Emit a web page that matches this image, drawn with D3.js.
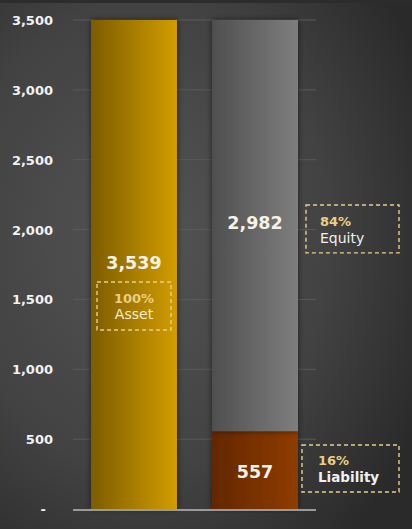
<!DOCTYPE html>
<html>
<head>
<meta charset="utf-8">
<script src="https://cdn.jsdelivr.net/npm/d3@7"></script>
<style>
  html, body { margin: 0; padding: 0; background: #2b2b2b; }
  #chart { width: 412px; height: 529px; }
</style>
</head>
<body>
<div id="chart"></div>
<script>
// data
const categories = ['Asset', 'Funding'];
const assetValues = [3539, 0];
const liabilityValues = [0, 557];
const equityValues = [0, 2982];
const yTicks = [0, 500, 1000, 1500, 2000, 2500, 3000, 3500];
const shareLabels = ['100%', '84%', '16%'];
const shareNames = ['Asset', 'Equity', 'Liability'];

const width = 412;
const height = 529;

const svg = d3.select('#chart')
    .append('svg')
    .attr('width', width)
    .attr('height', height);

const defs = svg.append('defs');

// background glow
const bg = defs.append('radialGradient')
    .attr('id', 'bg')
    .attr('cx', '35%').attr('cy', '45%').attr('r', '75%');
bg.append('stop').attr('offset', '0%').attr('stop-color', '#545454');
bg.append('stop').attr('offset', '60%').attr('stop-color', '#424242');
bg.append('stop').attr('offset', '100%').attr('stop-color', '#2a2a2a');

function barGrad(id, c1, c2) {
    const g = defs.append('linearGradient')
        .attr('id', id)
        .attr('x1', '0%').attr('x2', '100%').attr('y1', '0%').attr('y2', '0%');
    g.append('stop').attr('offset', '0%').attr('stop-color', c1);
    g.append('stop').attr('offset', '100%').attr('stop-color', c2);
}
barGrad('gold', '#7d5c02', '#d29d00');
barGrad('grey', '#4f4f4f', '#7e7e7e');
barGrad('rust', '#632700', '#8f3c00');

const shadow = defs.append('filter')
    .attr('id', 'shadow')
    .attr('x', '-20%').attr('y', '-5%').attr('width', '140%').attr('height', '110%');
shadow.append('feDropShadow')
    .attr('dx', 0).attr('dy', 0)
    .attr('stdDeviation', 3)
    .attr('flood-color', '#000')
    .attr('flood-opacity', 0.55);

svg.append('rect')
    .attr('width', width)
    .attr('height', height)
    .attr('fill', 'url(#bg)');
svg.append('rect')
    .attr('width', width)
    .attr('height', 3)
    .attr('fill', '#2c2c2c');

// scales
const x = d3.scaleBand()
    .domain(categories)
    .range([73, 316])
    .paddingInner(0.29)
    .paddingOuter(0.149);

const y = d3.scaleLinear()
    .domain([0, 3500])
    .range([509, 20])
    .clamp(true);

// grid lines
svg.append('g')
    .selectAll('line')
    .data(yTicks.slice(1))
    .enter().append('line')
    .attr('x1', 73)
    .attr('x2', 316)
    .attr('y1', d => y(d))
    .attr('y2', d => y(d))
    .style('stroke', '#5a5a5a')
    .style('stroke-width', 1);

// y axis labels
const yAxis = d3.axisLeft(y)
    .tickValues(yTicks)
    .tickSize(0)
    .tickPadding(0)
    .tickFormat(d => d === 0 ? '-' : d3.format(',')(d));

svg.append('g')
    .attr('transform', 'translate(53,0)')
    .call(yAxis)
    .call(g => g.select('.domain').remove())
    .selectAll('text')
    .attr('fill', '#f2f2f2')
    .attr('dy', '0.35em')
    .attr('dx', d => d === 0 ? -7 : 0)
    .style('font-family', 'DejaVu Sans, sans-serif')
    .style('font-weight', 'bold')
    .style('font-size', '13px');

// bars
const stacks = [
    { values: assetValues, base: categories.map(() => 0), fill: 'url(#gold)' },
    { values: liabilityValues, base: categories.map(() => 0), fill: 'url(#rust)' },
    { values: equityValues, base: liabilityValues, fill: 'url(#grey)' }
];

const barG = svg.append('g');
stacks.forEach(s => {
    const rows = categories.map((c, i) => ({ c: c, v: s.values[i], b: s.base[i] }))
        .filter(d => d.v > 0);
    barG.selectAll(null)
        .data(rows)
        .enter().append('rect')
        .attr('x', d => x(d.c))
        .attr('width', x.bandwidth())
        .attr('y', d => y(d.b + d.v))
        .attr('height', d => y(d.b) - y(d.b + d.v))
        .attr('fill', s.fill)
        .attr('filter', 'url(#shadow)');
});

// axis baseline
svg.append('line')
    .attr('x1', 73)
    .attr('x2', 316)
    .attr('y1', y(0) + 1)
    .attr('y2', y(0) + 1)
    .style('stroke', '#9a9a9a')
    .style('stroke-width', 2);

// value labels
const valueLabels = [
    { c: 'Asset', v: assetValues[0], ypos: 1760 },
    { c: 'Funding', v: equityValues[1], ypos: 2045 },
    { c: 'Funding', v: liabilityValues[1], ypos: 265 }
];
svg.append('g')
    .selectAll('text')
    .data(valueLabels)
    .enter().append('text')
    .attr('x', d => x(d.c) + x.bandwidth() / 2)
    .attr('y', d => y(d.ypos))
    .attr('dy', '0.35em')
    .attr('text-anchor', 'middle')
    .attr('fill', '#f7f2e6')
    .style('font-family', 'DejaVu Sans, sans-serif')
    .style('font-weight', 'bold')
    .style('font-size', '17.5px')
    .text(d => d3.format(',')(d.v));

// dashed share boxes
const boxes = [
    { x0: 97, x1: 171, top: 1625, bottom: 1281, anchor: 'middle', tx: 134, d1: -8, d2: 8 },
    { x0: 306, x1: 399, top: 2176, bottom: 1833, anchor: 'start', tx: 320, d1: -7, d2: 9 },
    { x0: 302, x1: 399, top: 458, bottom: 122, anchor: 'start', tx: 318, d1: -8, d2: 9 }
];
const boxG = svg.append('g');
boxes.forEach((b, i) => {
    boxG.append('rect')
        .attr('x', b.x0)
        .attr('y', y(b.top))
        .attr('width', b.x1 - b.x0)
        .attr('height', y(b.bottom) - y(b.top))
        .attr('fill', 'none')
        .attr('stroke', '#e6cf8c')
        .attr('stroke-width', 1.4)
        .attr('stroke-dasharray', '4,3');
    const mid = (y(b.top) + y(b.bottom)) / 2;
    boxG.append('text')
        .attr('x', b.tx)
        .attr('y', mid + b.d1)
        .attr('dy', '0.35em')
        .attr('text-anchor', b.anchor)
        .attr('fill', '#e8cf84')
        .style('font-family', 'DejaVu Sans, sans-serif')
        .style('font-weight', 'bold')
        .style('font-size', '13px')
        .text(shareLabels[i]);
    boxG.append('text')
        .attr('x', b.tx)
        .attr('y', mid + b.d2)
        .attr('dy', '0.35em')
        .attr('text-anchor', b.anchor)
        .attr('fill', i === 0 ? '#f5ecd2' : '#f0f0f0')
        .style('font-family', 'DejaVu Sans, sans-serif')
        .style('font-weight', i === 2 ? 'bold' : 'normal')
        .style('font-size', i === 2 ? '13.5px' : '14px')
        .text(shareNames[i]);
});
</script>
</body>
</html>
